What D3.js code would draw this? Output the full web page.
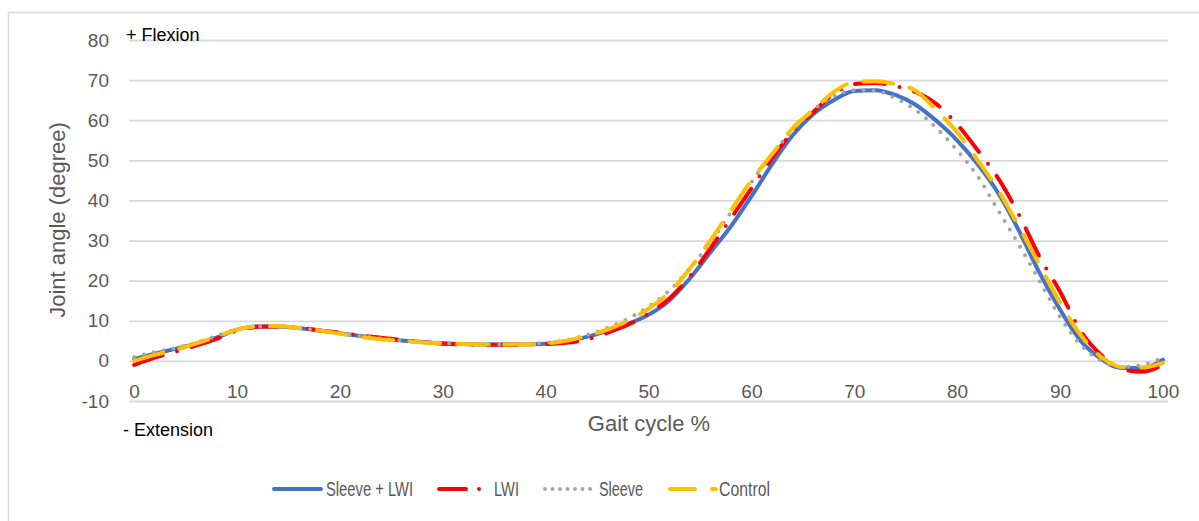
<!DOCTYPE html>
<html><head><meta charset="utf-8">
<script src="https://cdn.jsdelivr.net/npm/d3@7"></script>
<style>body{margin:0;background:#fff}svg{display:block;font-family:"Liberation Sans",Arial,sans-serif}</style>
</head><body><svg id="c" width="1199" height="521"></svg>
<script>
// ---- data ----
const gait = [0,2,4,6,8,10,12,14,16,18,20,22,24,26,28,30,32,34,36,38,40,42,44,46,48,50,52,54,56,58,60,62,64,66,68,70,72,74,76,78,80,82,84,86,88,90,92,94,96,98,100];
const sleeveLWI = [0.5,1.8,3.0,4.3,5.8,7.8,8.6,8.6,8.2,7.6,6.9,6.2,5.6,5.1,4.7,4.4,4.2,4.1,4.1,4.1,4.3,4.9,6.0,7.5,9.2,11.5,15.0,20.5,27.0,33.5,41.0,49.0,56.2,61.5,65.0,67.3,67.5,66.3,63.8,59.8,55.0,49.0,41.8,32.5,22.0,12.8,5.0,0.5,-1.8,-1.8,0.3];
const lwi       = [-1.0,0.8,2.3,3.8,5.5,7.5,8.5,8.6,8.3,7.6,7.0,6.3,5.8,5.2,4.7,4.3,4.1,4.0,4.0,4.1,4.2,4.5,5.3,7.0,9.0,11.8,15.5,21.0,28.0,35.5,43.0,50.5,57.0,62.0,66.5,69.0,69.3,68.5,67.0,64.0,59.0,52.5,45.5,36.5,26.0,17.3,7.5,1.5,-2.0,-2.7,-1.0];
const sleeve    = [1.0,2.2,3.2,4.5,6.2,7.9,8.6,8.6,8.2,7.6,6.9,6.2,5.6,5.1,4.7,4.4,4.2,4.1,4.1,4.2,4.5,5.2,6.5,8.2,10.5,13.5,17.5,23.0,29.5,37.0,44.5,51.5,57.5,62.5,66.0,67.5,67.3,65.5,62.5,58.0,52.5,46.0,37.5,29.0,20.0,11.0,4.0,0.0,-1.5,-1.0,0.8];
const control   = [0.0,1.5,2.8,4.3,6.0,7.8,8.6,8.7,8.2,7.6,6.8,6.0,5.4,5.0,4.6,4.4,4.2,4.1,4.1,4.1,4.3,5.0,6.3,7.8,10.0,13.0,17.0,23.0,30.0,37.5,45.0,51.5,58.0,62.5,67.0,69.5,69.7,69.0,67.3,62.5,57.0,50.0,42.5,33.5,24.0,14.5,6.5,1.0,-1.5,-1.6,-0.5];
const seriesNames = ["Sleeve + LWI","LWI","Sleeve","Control"];
const yTicks = [-10,0,10,20,30,40,50,60,70,80];
const xTicks = [0,10,20,30,40,50,60,70,80,90,100];

// ---- chart ----
const svg = d3.select("#c");
const L = 129, R = 1168, T = 40, B = 401;
const x = d3.scaleLinear().domain([-0.5,100.5]).range([L,R]);
const y = d3.scaleLinear().domain([-10,80]).range([B,T]);

svg.append("rect").attr("x",8.5).attr("y",12.5).attr("width",1220).attr("height",540)
  .attr("fill","#fff").attr("stroke","#d9d9d9").attr("stroke-width",1.5);

// gridlines
const grid = svg.append("g").attr("transform",`translate(${L},0)`)
  .call(d3.axisLeft(y).tickValues(yTicks).tickSize(-(R-L)).tickFormat(""));
grid.select(".domain").remove();
grid.selectAll("line").attr("stroke","#d9d9d9").attr("stroke-width",1.8);

// y labels
const ya = svg.append("g").attr("transform",`translate(${L},0)`)
  .call(d3.axisLeft(y).tickValues(yTicks).tickSize(0).tickPadding(20).tickFormat(d=>String(d)));
ya.select(".domain").remove();
ya.selectAll("text").attr("fill","#595959").style("font-size","19px").style("font-family","Liberation Sans, Arial, sans-serif");

// x labels
const xa = svg.append("g").attr("transform",`translate(0,${y(0)})`)
  .call(d3.axisBottom(x).tickValues(xTicks).tickSize(0).tickPadding(24).tickFormat(d=>String(d)));
xa.select(".domain").remove();
xa.selectAll("text").attr("fill","#595959").style("font-size","19px").style("font-family","Liberation Sans, Arial, sans-serif");

// titles
svg.append("text").attr("x",649).attr("y",431).attr("text-anchor","middle")
  .attr("fill","#595959").style("font-size","22px").text("Gait cycle %");
svg.append("text").attr("transform",`translate(65,220) rotate(-90)`).attr("text-anchor","middle")
  .attr("fill","#595959").style("font-size","22px").text("Joint angle (degree)");
svg.append("text").attr("x",126).attr("y",41).attr("fill","#000").style("font-size","18px").text("+ Flexion");
svg.append("text").attr("x",123).attr("y",436).attr("fill","#000").style("font-size","18px").text("- Extension");

// series
const styles = [
  {data:sleeveLWI, color:"#4472C4", dash:null, ldash:null},
  {data:lwi, color:"#FF0000", dash:"30,15,0,15", ldash:"27,13,0,13"},
  {data:sleeve, color:"#A5A5A5", dash:"0,10", ldash:"0,7.5"},
  {data:control, color:"#FFC000", dash:"30,17", ldash:"25,17"}
];
const line = d3.line().x((d,i)=>x(gait[i])).y(d=>y(d)).curve(d3.curveMonotoneX);
styles.forEach(s=>{
  svg.append("path").datum(s.data).attr("d",line).attr("fill","none")
    .attr("stroke",s.color).attr("stroke-width",4).attr("stroke-linecap","round")
    .attr("stroke-linejoin","round").attr("stroke-dasharray",s.dash);
});

// legend
const leg = [
  {x1:274,x2:321,tx:326,tw:87},
  {x1:439,x2:480,tx:494,tw:25},
  {x1:545,x2:590.5,tx:599,tw:44},
  {x1:670,x2:716,tx:719,tw:51}
];
const ly = 489;
leg.forEach((g,i)=>{
  const s = styles[i];
  svg.append("line").attr("x1",g.x1).attr("x2",g.x2).attr("y1",ly).attr("y2",ly)
    .attr("stroke",s.color).attr("stroke-width",4).attr("stroke-linecap","round")
    .attr("stroke-dasharray",s.ldash);
  svg.append("text").attr("x",g.tx).attr("y",ly+7).attr("fill","#595959")
    .style("font-size","20px").attr("textLength",g.tw).attr("lengthAdjust","spacingAndGlyphs")
    .text(seriesNames[i]);
});
</script></body></html>
